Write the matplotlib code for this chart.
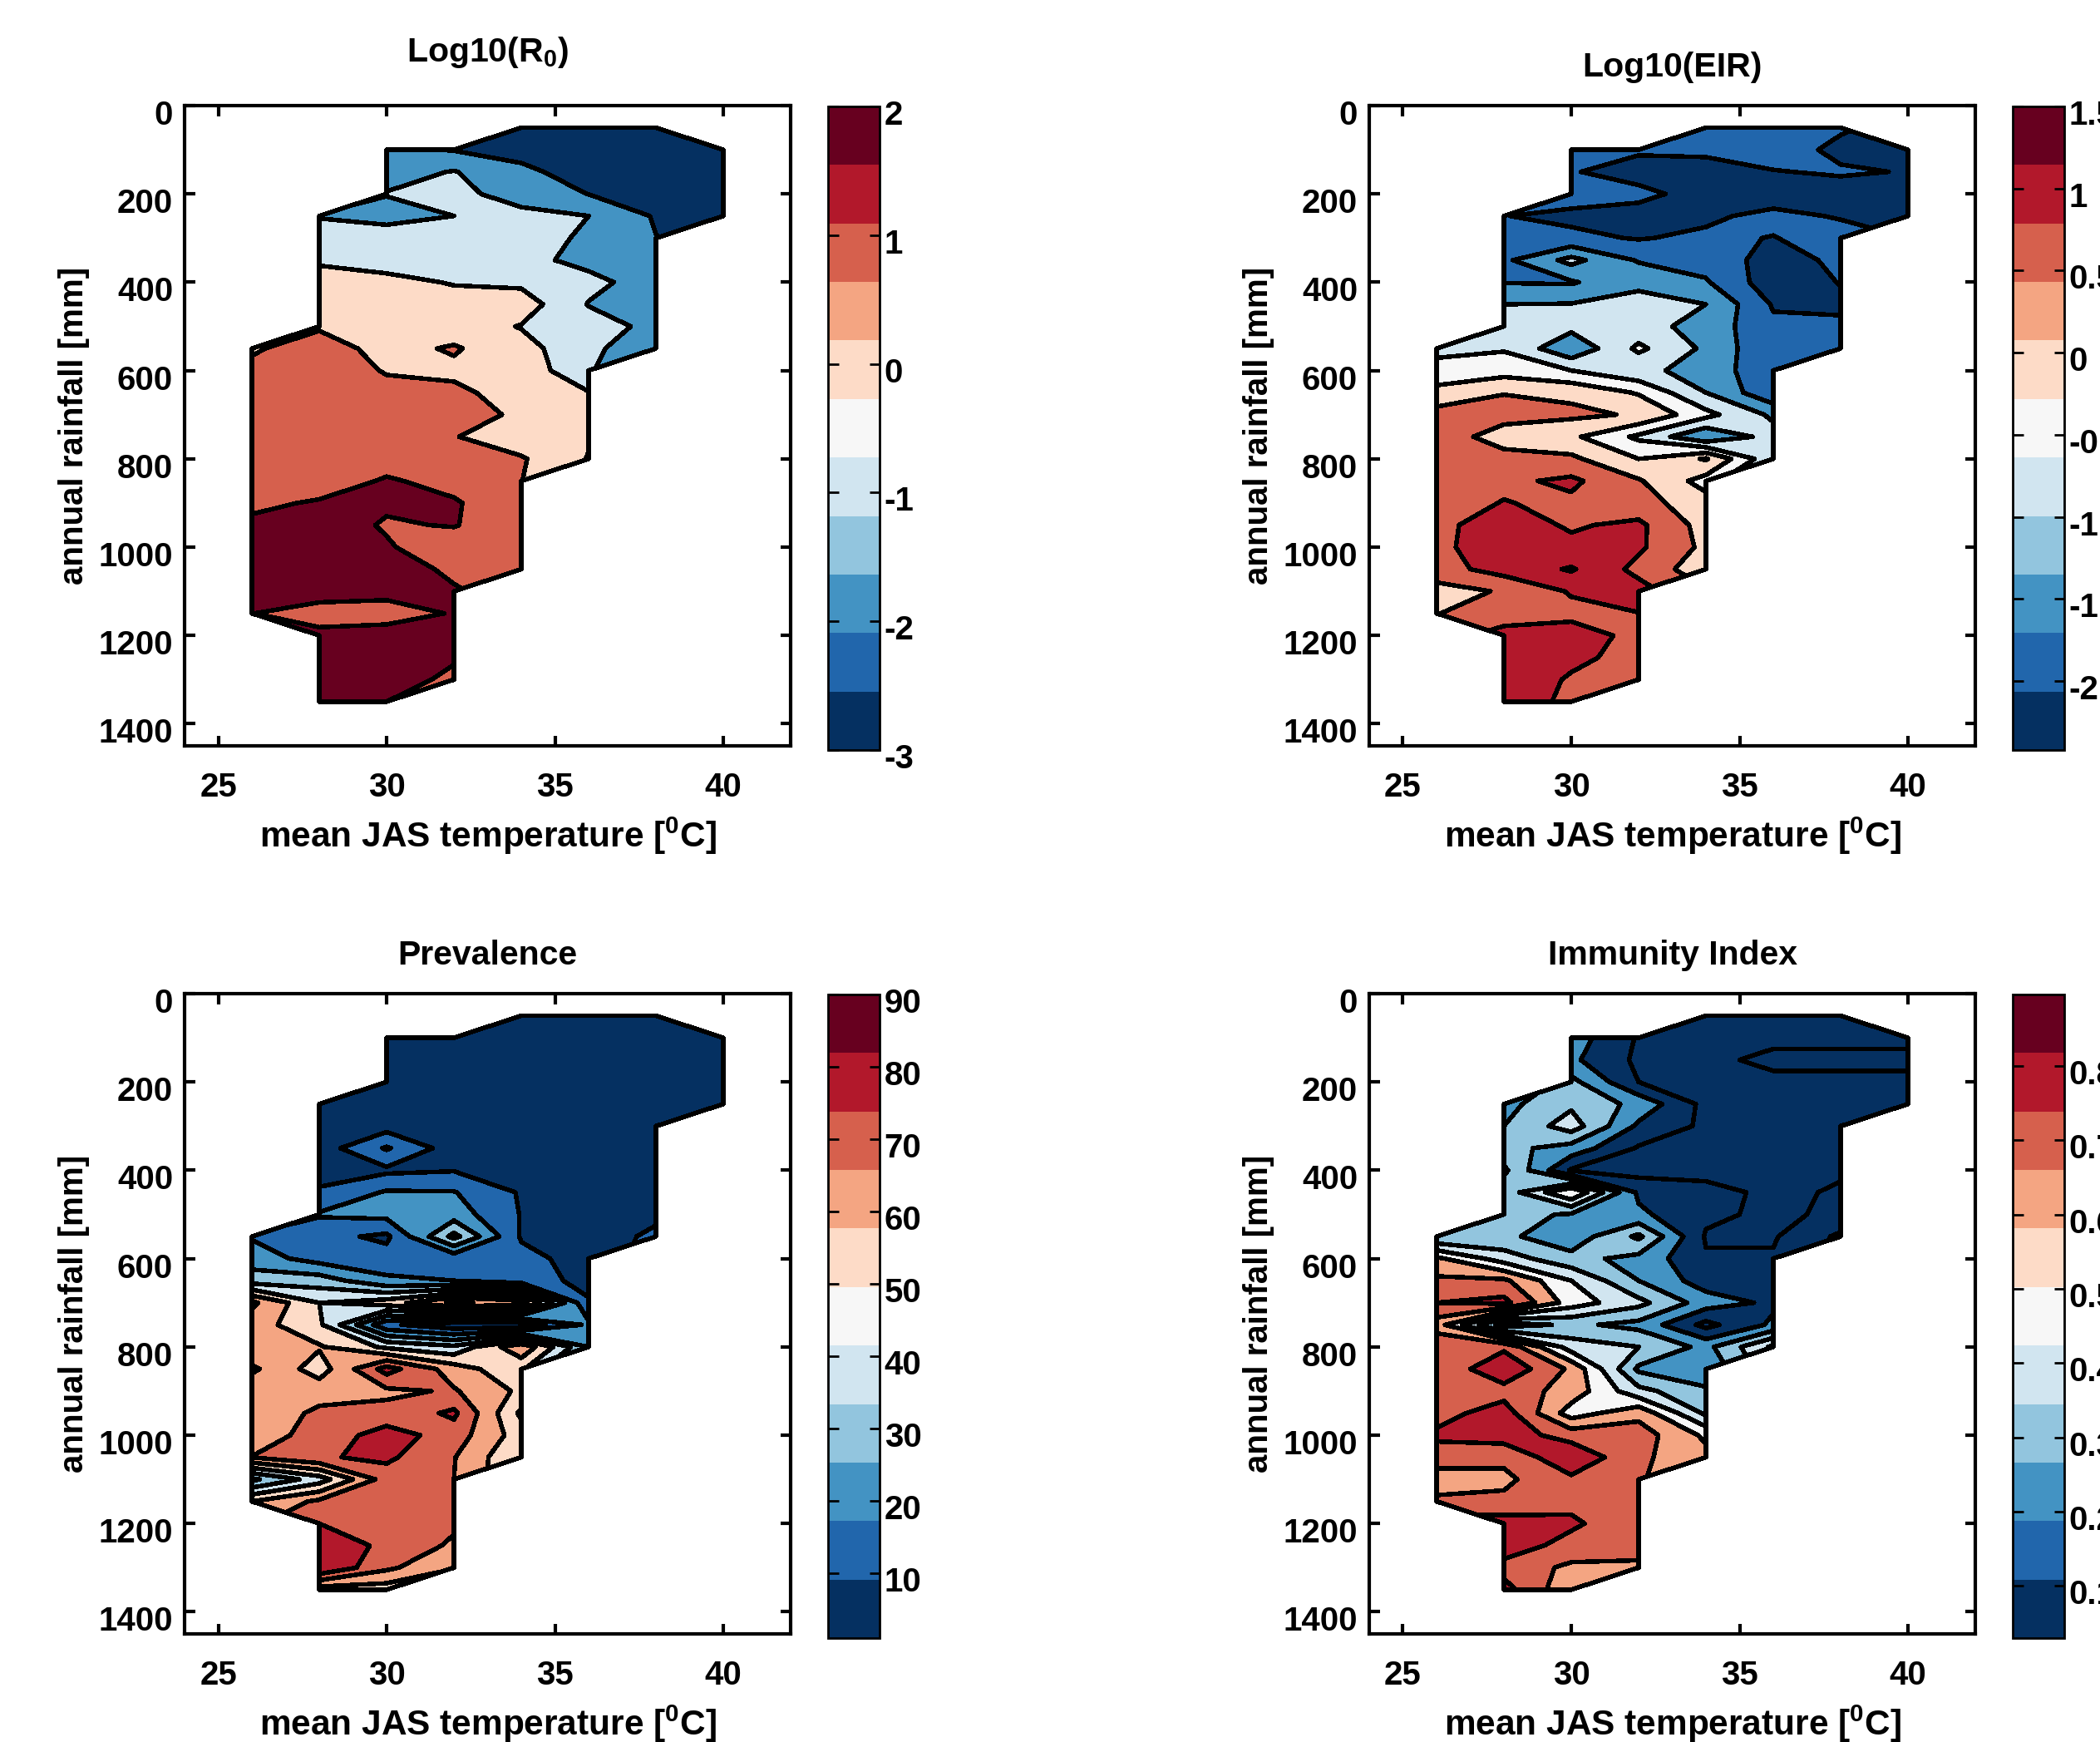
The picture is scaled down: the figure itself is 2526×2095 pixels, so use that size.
#!/usr/bin/env python3
import numpy as np
import matplotlib
matplotlib.use('Agg')
import matplotlib.pyplot as plt
from matplotlib.cm import ScalarMappable
from matplotlib.colors import ListedColormap, Normalize
from matplotlib.transforms import ScaledTranslation

W, H = 2526, 2095

# grid of the model runs
temps = [26, 28, 30, 32, 34, 36, 38, 40]
rains = list(range(50, 1400, 50))
first_rain = [550, 250, 100, 100, 50, 50, 50, 100]  # first valid row per temperature

# Log10(R0), one list per temperature
r0_t26 = [.9, 1.2, 1.3, 1.4, 1.5, 1.6, 1.6, 1.8, 2.2, 2.4, 2.5, 2.5, 2.02]
r0_t28 = [-1.05, -.6, -.1, .3, .5, .9, 1.4, 1.4, 1.4, 1.4, 1.5, 1.5, 1.5, 2.1, 2.5, 2.5, 2.5, 2.5, 1.5, 2.3, 2.5, 2.5, 2.4]
r0_t30 = [-1.8, -1.4, -.95, -1.4, -.4, -.3, .2, .4, .5, .7, .95, 1.2, 1.3, 1.3, 1.6, 2.1, 2.15, 1.9, 2.1, 2.5, 2.2, 1.7, 2.3, 2.5, 2.4, 2.0]
r0_t32 = [-2.05, -.95, -.8, -1.0, -.7, -.5, -.05, .3, .5, 1.1, .8, 1.2, 1.5, 1.05, 1.6, 1.7, 2.1, 2.06, 1.4, 1.8, 2.1, 2.05, 2.4, 2.1, 1.8]
r0_t34 = [-2.8, -2.3, -1.8, -1.3, -.8, -.6, -.7, -.2, .5, -.05, .35, .7, .6, .8, .4, 1.1, 1.02, 1.3, 1.3, 1.3, 1.3]
r0_t36 = [-2.8, -2.7, -2.4, -2.02, -1.0, -1.15, -1.3, -.7, -1.05, -.5, -.7, -.9, .05, .2, .1, -.05]
r0_t38 = [-2.8, -2.7, -2.6, -2.4, -2.1, -1.98, -1.8, -1.5, -1.5, -1.3, -1.9]
r0_t40 = [-2.7, -2.7, -2.6, -2.5]

# Log10(EIR)
eir_t26 = [-.65, -.3, .15, .7, .8, .8, .8, .8, .9, .9, .8, .3, .48]
eir_t28 = [-1.99, -1.7, -1.6, -1.52, -1.0, -.9, -.55, -.2, .48, .7, .25, .7, .9, 1.02, 1.2, 1.25, 1.2, .55, .8, 1.15, 1.2, 1.3, 1.2]
eir_t30 = [-1.8, -1.95, -1.8, -2.1, -1.9, -.85, -1.55, -.98, -.85, -1.4, -.5, .4, .6, .1, .6, 1.1, .9, .95, 1.1, 1.55, 1.05, .85, 1.25, 1.1, .95, .92]
eir_t32 = [-1.9, -2.3, -1.8, -2.3, -2.03, -1.55, -1.1, -.85, -.8, -.4, -.9, -.05, .45, -.6, 0, .55, .7, 1.1, 1.08, .85, 1.2, .99, .85, .85, .7]
eir_t34 = [-1.9, -1.9, -2.2, -2.3, -2.1, -1.9, -1.7, -1.45, -1.0, -1.2, -1.1, -1.15, -1.0, -.35, -1.45, .55, -.2, .2, .3, .38, .2]
eir_t36 = [-1.9, -1.8, -2.02, -2.3, -1.85, -2.02, -2.2, -2.3, -2.05, -1.9, -1.95, -1.95, -1.9, -1.1, -.8, -.9]
eir_t38 = [-1.95, -2.1, -1.95, -2.2, -2.05, -1.75, -1.9, -1.98, -2.1, -1.9, -1.9]
eir_t40 = [-2.3, -2.02, -2.3, -2.3]

# Prevalence
prev_t26 = [19, 25, 35, 72, 65, 60.5, 72, 62, 63, 66, 70.2, 28, 60]
prev_t28 = [2, 3, 5, 7, 11, 21, 13, 16, 35, 50, 52, 61, 55, 66, 72, 73, 79, 45, 72, 80, 83, 90, 55]
prev_t30 = [2, 2, 2, 2, 6, 21, 8, 21, 23, 8, 14, 22, 55, 12, 48, 84, 68, 73, 85, 82, 75, 75, 75, 79, 72, 55]
prev_t32 = [2, 2, 2, 2, 3, 5, 9.5, 20.5, 25, 43, 13, 20, 72, 3, 42, 65, 71, 82, 75, 70.5, 70, 75, 72, 68, 61]
prev_t34 = [2, 2, 2, 2, 2, 3, 4, 6, 9, 9.5, 9, 13, 15, 65, 3, 68, 52, 58, 48, 55, 50]
prev_t36 = [2, 2, 2, 2, 2, 2, 3, 3, 4, 4, 5, 6, 7, 11, 22, 30]
prev_t38 = [2, 2, 2, 2, 2, 2, 3, 4, 5, 8, 12]
prev_t40 = [2, 2, 2, 2]

# Immunity Index
imm_t26 = [.3, .62, .72, .8, .65, .78, .72, .72, .76, .82, .75, .65, .72]
imm_t28 = [.27, .3, .33, .42, .34, .33, .32, .45, .72, .83, .25, .78, .88, .76, .85, .85, .72, .68, .72, .85, .86, .76, .84]
imm_t30 = [.25, .22, .33, .38, .45, .26, .09, .6, .29, .24, .33, .5, .55, .32, .45, .68, .66, .55, .76, .88, .78, .77, .82, .76, .68, .62]
imm_t32 = [.09, .08, .1, .27, .18, .09, .06, .18, .22, .42, .27, .3, .43, .27, .4, .28, .43, .67, .75, .72, .71, .73, .72, .74, .68]
imm_t34 = [.05, .06, .08, .07, .07, .08, .05, .07, .13, .12, .09, .11, .15, .25, .07, .27, .22, .32, .38, .58, .63]
imm_t36 = [.06, .08, .12, .08, .05, .05, .05, .05, .08, .08, .09, .11, .12, .18, .22, .52]
imm_t38 = [.06, .08, .12, .08, .05, .05, .05, .09, .11, .12, .22]
imm_t40 = [.08, .12, .08, .05]

palette = ['#053061', '#2166ac', '#4393c3', '#92c5de', '#d1e5f0', '#f7f7f7',
           '#fddbc7', '#f4a582', '#d6604d', '#b2182b', '#67001f']

r0_levels = [-3.5, -2, -1, 0, 1, 2, 3]
r0_fills = [0, 2, 4, 6, 8, 10]
eir_levels = [-3, -2, -1.5, -1, -.5, 0, .5, 1, 1.5, 2]
eir_fills = [0, 1, 2, 4, 5, 6, 8, 9, 10]
prev_levels = [0, 10, 20, 30, 40, 50, 60, 70, 80, 95]
prev_fills = [0, 1, 2, 3, 4, 6, 7, 8, 9]
imm_levels = [0, .1, .2, .3, .4, .5, .6, .7, .8, 1]
imm_fills = [0, 0, 2, 3, 4, 5, 7, 8, 9]

plt.rcParams['font.family'] = ['Liberation Sans', 'DejaVu Sans']
plt.rcParams['font.weight'] = 'bold'
plt.rcParams['axes.labelweight'] = 'bold'
plt.rcParams['mathtext.fontset'] = 'custom'
plt.rcParams['mathtext.rm'] = 'Liberation Sans:bold'
plt.rcParams['mathtext.default'] = 'rm'
plt.rcParams['axes.unicode_minus'] = False

FS = 29
LW = 3.2


def make_grid(columns):
    Z = np.full((len(rains), len(temps)), np.nan)
    for j, col in enumerate(columns):
        i0 = rains.index(first_rain[j])
        Z[i0:i0 + len(col), j] = col
    return np.ma.masked_invalid(Z)


def box(x0, y0, x1, y1):
    # pixel box (from the top left) to figure coordinates
    return [x0 / W, 1 - y1 / H, (x1 - x0) / W, (y1 - y0) / H]


def panel(fig, xoff, yoff, columns, levels, fills, title, title_pad, lim, ticks, ticklabels):
    ax = fig.add_axes(box(222 + xoff, 127 + yoff, 951 + xoff, 897 + yoff))
    cs = ax.contourf(temps, rains, make_grid(columns), levels=levels,
                     colors=[palette[k] for k in fills])
    cs.set_edgecolor('k')
    cs.set_linewidth(LW)
    ax.set_xlim(24, 42)
    ax.set_ylim(1450, 0)
    ax.set_xticks([25, 30, 35, 40])
    ax.set_yticks(range(0, 1600, 200))
    ax.tick_params(direction='in', top=True, right=True, length=9, width=3,
                   labelsize=FS, pad=10)
    ax.tick_params(axis='x', pad=22)
    for s in ax.spines.values():
        s.set_linewidth(3)
    ax.set_title(title, fontsize=FS + 0.5, fontweight='bold', pad=title_pad)
    ax.set_xlabel('mean JAS temperature [$^{0}$C]', fontsize=FS + 1.5, labelpad=11)
    ax.set_ylabel('annual rainfall [mm]', fontsize=FS)
    ax.yaxis.set_label_coords(-0.157, 0.5)

    down = ScaledTranslation(0, -8 / fig.dpi, fig.dpi_scale_trans)
    for lab in ax.get_yticklabels():
        lab.set_transform(lab.get_transform() + down)

    cax = fig.add_axes(box(996 + xoff, 128 + yoff, 1058 + xoff, 902 + yoff))
    sm = ScalarMappable(norm=Normalize(*lim), cmap=ListedColormap(palette))
    cb = fig.colorbar(sm, cax=cax)
    cb.set_ticks(ticks)
    cb.set_ticklabels(ticklabels)
    cb.outline.set_linewidth(2)
    cax.tick_params(axis='y', direction='in', left=True, right=True, length=9, width=2,
                    labelsize=FS, pad=4)
    down = ScaledTranslation(0, -7 / fig.dpi, fig.dpi_scale_trans)
    for lab in cax.get_yticklabels():
        lab.set_transform(lab.get_transform() + down)
    return ax


def main():
    fig = plt.figure(figsize=(W / 100, H / 100), dpi=100)
    dx, dy = 1425, 1068
    panel(fig, 0, 0, [r0_t26, r0_t28, r0_t30, r0_t32, r0_t34, r0_t36, r0_t38, r0_t40],
          r0_levels, r0_fills, 'Log10(R$_{0}$)', 38, (-3, 2),
          [-3, -2, -1, 0, 1, 2], ['-3', '-2', '-1', '0', '1', '2'])
    panel(fig, dx, 0, [eir_t26, eir_t28, eir_t30, eir_t32, eir_t34, eir_t36, eir_t38, eir_t40],
          eir_levels, eir_fills, 'Log10(EIR)', 25, (-2.42, 1.5),
          [-2, -1.5, -1, -.5, 0, .5, 1, 1.5], ['-2', '-1.5', '-1', '-0.5', '0', '0.5', '1', '1.5'])
    panel(fig, 0, dy, [prev_t26, prev_t28, prev_t30, prev_t32, prev_t34, prev_t36, prev_t38, prev_t40],
          prev_levels, prev_fills, 'Prevalence', 25, (1, 90),
          list(range(10, 100, 10)), [str(v) for v in range(10, 100, 10)])
    panel(fig, dx, dy, [imm_t26, imm_t28, imm_t30, imm_t32, imm_t34, imm_t36, imm_t38, imm_t40],
          imm_levels, imm_fills, 'Immunity Index', 25, (.03, .896),
          [.1, .2, .3, .4, .5, .6, .7, .8], ['0.1', '0.2', '0.3', '0.4', '0.5', '0.6', '0.7', '0.8'])
    fig.savefig('out.png', dpi=100)


if __name__ == "__main__":
    main()
